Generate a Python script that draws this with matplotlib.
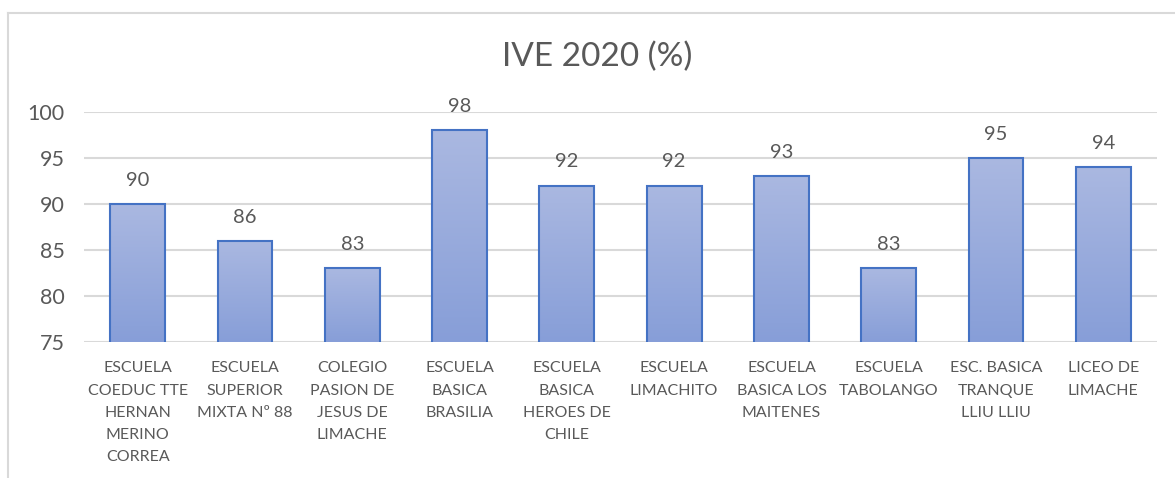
import matplotlib.pyplot as plt
import numpy as np
from matplotlib.lines import Line2D
from matplotlib.colors import LinearSegmentedColormap

escuelas = ['ESCUELA\nCOEDUC TTE\nHERNAN\nMERINO\nCORREA',
            'ESCUELA\nSUPERIOR\nMIXTA Nº 88',
            'COLEGIO\nPASION DE\nJESUS DE\nLIMACHE',
            'ESCUELA\nBASICA\nBRASILIA',
            'ESCUELA\nBASICA\nHEROES DE\nCHILE',
            'ESCUELA\nLIMACHITO',
            'ESCUELA\nBASICA LOS\nMAITENES',
            'ESCUELA\nTABOLANGO',
            'ESC. BASICA\nTRANQUE\nLLIU LLIU',
            'LICEO DE\nLIMACHE']
ive = [90, 86, 83, 98, 92, 92, 93, 83, 95, 94]
yticks = [75, 80, 85, 90, 95, 100]

plt.rcParams['font.family'] = ['Lato', 'DejaVu Sans']
gris = '#595959'

fig = plt.figure(figsize=(11.75, 4.78), dpi=100)
ax = fig.add_axes([84/1175, 1-342/478, (1157-84)/1175, (342-112)/478])

x = np.arange(len(ive))
bars = ax.bar(x, ive, width=0.51, color='none', edgecolor='#4472c4',
              linewidth=1.5, zorder=3)

# degradado vertical dentro de cada barra
grad = np.linspace(1, 0, 256).reshape(-1, 1)
cmap = LinearSegmentedColormap.from_list('g', ['#879ed8', '#aab8e1'])
for b in bars:
    x0, w, h = b.get_x(), b.get_width(), b.get_height()
    im = ax.imshow(grad, extent=[x0, x0 + w, 75, h], aspect='auto', cmap=cmap,
                   origin='upper', zorder=2)
    im.set_clip_path(b)
    ax.annotate(str(int(h)), (x0 + w/2, h), xytext=(0, 11), textcoords='offset points',
                ha='center', va='bottom', fontsize=14.5, color=gris, annotation_clip=False)

ax.set_xlim(-0.5, len(ive) - 0.5)
ax.set_ylim(75, 100)
ax.set_yticks(yticks)
ax.set_xticks(x)
ax.set_xticklabels(escuelas, fontsize=11.5, color=gris, linespacing=1.75)
ax.tick_params(axis='y', labelsize=15.5, labelcolor=gris, length=0, pad=14)
ax.tick_params(axis='x', length=0, pad=14)
ax.grid(axis='y', color='#d9d9d9', linewidth=1.5, zorder=0)
for s in ax.spines.values():
    s.set_visible(False)

fig.text(597/1175, 1-57/478, 'IVE 2020 (%)', ha='center', va='center',
         fontsize=24, color=gris)

# marco del gráfico (recortado)
fig.add_artist(Line2D([8/1175, 8/1175], [0, 1-13/478], color='#d9d9d9', lw=1.5))
fig.add_artist(Line2D([8/1175, 1], [1-13/478, 1-13/478], color='#d9d9d9', lw=1.5))

fig.savefig('out.png', dpi=100)
